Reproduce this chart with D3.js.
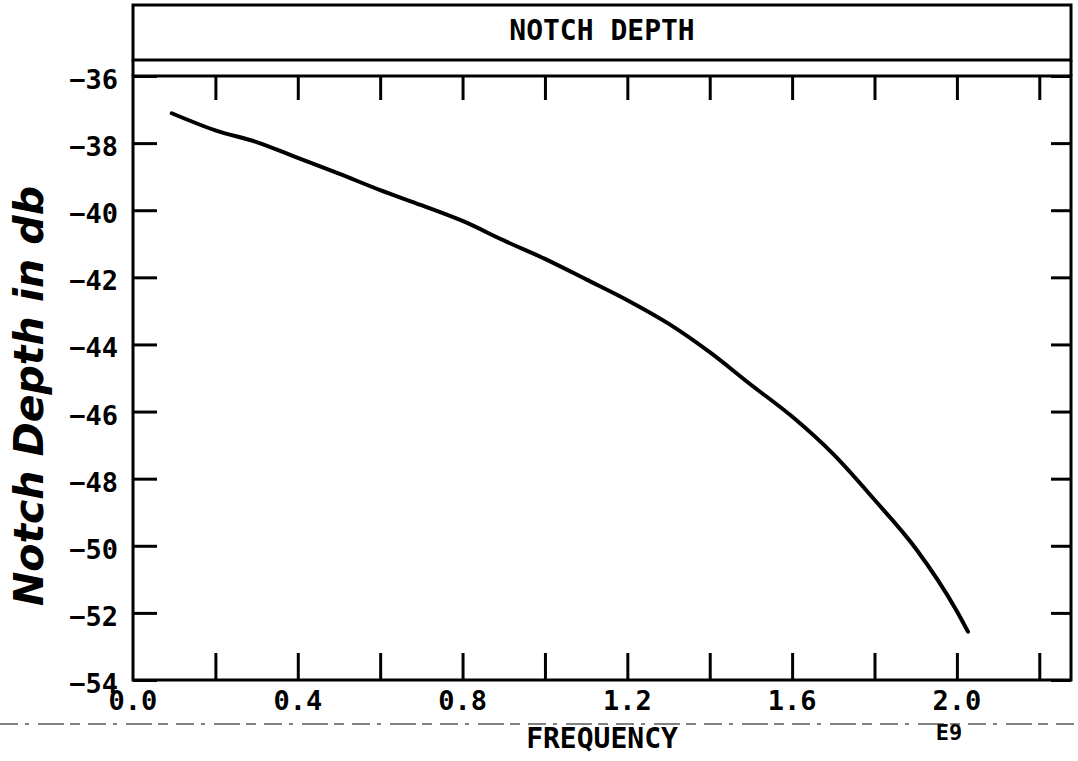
<!DOCTYPE html>
<html>
<head>
<meta charset="utf-8">
<script src="https://cdn.jsdelivr.net/npm/d3@7"></script>
<style>
  html, body { margin: 0; padding: 0; background: #fff; }
  svg { display: block; }
</style>
</head>
<body>
<svg id="chart" width="1078" height="761"></svg>
<script>
// Notch depth vs. frequency (x in units of 1E9 Hz)
const frequency = [0.094, 0.2, 0.3, 0.4, 0.5, 0.6, 0.7, 0.8, 0.9, 1.0, 1.1, 1.2, 1.3, 1.4, 1.5, 1.6, 1.7, 1.8, 1.9, 2.0, 2.027];
const notchDepth = [-37.11, -37.62, -37.97, -38.44, -38.91, -39.40, -39.85, -40.32, -40.90, -41.45, -42.06, -42.68, -43.38, -44.23, -45.20, -46.15, -47.27, -48.63, -50.08, -51.95, -52.56];

const xTicks = [0.2, 0.4, 0.6, 0.8, 1.0, 1.2, 1.4, 1.6, 1.8, 2.0, 2.2];
const xTickLabels = [0.0, 0.4, 0.8, 1.2, 1.6, 2.0];
const yTicks = [-36, -38, -40, -42, -44, -46, -48, -50, -52, -54];

const titleText = "NOTCH DEPTH";
const xTitle = "FREQUENCY";
const xExponent = "E9";
const yTitle = "Notch Depth in db";

const svg = d3.select("#chart");
const ink = "#000";
const mono = "'DejaVu Sans Mono', 'Liberation Mono', monospace";

const plot = { left: 133, right: 1071, top: 76, bottom: 680 };
const titleBox = { top: 5, bottom: 60 };

const x = d3.scaleLinear().domain([0, 2.277]).range([plot.left, plot.right]);
const y = d3.scaleLinear().domain([-54, -36]).range([plot.bottom, plot.top]);

// Title box above the frame
svg.append("rect")
  .attr("x", plot.left).attr("y", titleBox.top)
  .attr("width", plot.right - plot.left).attr("height", titleBox.bottom - titleBox.top)
  .attr("fill", "none").attr("stroke", ink).attr("stroke-width", 3);
svg.append("line")
  .attr("x1", plot.left).attr("x2", plot.left)
  .attr("y1", titleBox.bottom).attr("y2", plot.top)
  .attr("stroke", ink).attr("stroke-width", 3);
svg.append("line")
  .attr("x1", plot.right).attr("x2", plot.right)
  .attr("y1", titleBox.bottom).attr("y2", plot.top)
  .attr("stroke", ink).attr("stroke-width", 3);
svg.append("text")
  .attr("x", (plot.left + plot.right) / 2).attr("y", 40)
  .attr("text-anchor", "middle")
  .attr("font-family", mono).attr("font-weight", "bold").attr("font-size", 28)
  .attr("fill", ink)
  .text(titleText);

// Axes: ticks drawn inward on all four sides
const tickStyle = g => {
  g.select(".domain").remove();
  g.selectAll(".tick line").attr("stroke", ink).attr("stroke-width", 3);
};

svg.append("g")
  .attr("transform", `translate(0,${plot.bottom})`)
  .call(d3.axisBottom(x).tickValues(xTicks).tickSize(-27).tickFormat(""))
  .call(tickStyle);
svg.append("g")
  .attr("transform", `translate(0,${plot.top})`)
  .call(d3.axisTop(x).tickValues(xTicks).tickSize(-24).tickFormat(""))
  .call(tickStyle);
svg.append("g")
  .attr("transform", `translate(${plot.left},0)`)
  .call(d3.axisLeft(y).tickValues(yTicks).tickSize(-24).tickFormat(""))
  .call(tickStyle);
svg.append("g")
  .attr("transform", `translate(${plot.right},0)`)
  .call(d3.axisRight(y).tickValues(yTicks).tickSize(-20).tickFormat(""))
  .call(tickStyle);

// Plot frame
svg.append("rect")
  .attr("x", plot.left).attr("y", plot.top)
  .attr("width", plot.right - plot.left).attr("height", plot.bottom - plot.top)
  .attr("fill", "none").attr("stroke", ink).attr("stroke-width", 3);

// Tick labels
svg.append("g").selectAll("text")
  .data(xTickLabels)
  .join("text")
  .attr("x", d => x(d)).attr("y", plot.bottom + 30)
  .attr("text-anchor", "middle")
  .attr("font-family", mono).attr("font-weight", "bold").attr("font-size", 27)
  .attr("fill", ink)
  .text(d => d3.format(".1f")(d));

svg.append("g").selectAll("text")
  .data(yTicks)
  .join("text")
  .attr("x", plot.left - 15).attr("y", d => y(d) + 13)
  .attr("text-anchor", "end")
  .attr("font-family", mono).attr("font-weight", "bold").attr("font-size", 27)
  .attr("fill", ink)
  .text(d => d3.format("d")(d));

// Axis titles
svg.append("text")
  .attr("x", 602).attr("y", 748)
  .attr("text-anchor", "middle")
  .attr("font-family", mono).attr("font-weight", "bold").attr("font-size", 28)
  .attr("fill", ink)
  .text(xTitle);
svg.append("text")
  .attr("x", 949).attr("y", 740)
  .attr("text-anchor", "middle")
  .attr("font-family", mono).attr("font-weight", "bold").attr("font-size", 22)
  .attr("fill", ink)
  .text(xExponent);

svg.append("text")
  .attr("transform", `translate(43,396) rotate(-90)`)
  .attr("text-anchor", "middle")
  .attr("font-family", "'DejaVu Sans', sans-serif")
  .attr("font-weight", "bold").attr("font-style", "italic")
  .attr("font-size", 40)
  .attr("textLength", 420).attr("lengthAdjust", "spacingAndGlyphs")
  .attr("fill", ink)
  .text(yTitle);

// Ruled line crossing the lower margin
svg.append("line")
  .attr("x1", 0).attr("x2", 1078)
  .attr("y1", 724).attr("y2", 724)
  .attr("stroke", "#222").attr("stroke-width", 1.5)
  .attr("stroke-dasharray", "18 7 4 9 26 6 10 8")
  .attr("opacity", 0.75);

// Data curve
const points = frequency.map((f, i) => [f, notchDepth[i]]);
const line = d3.line()
  .x(d => x(d[0]))
  .y(d => y(d[1]))
  .curve(d3.curveMonotoneX);

svg.append("path")
  .datum(points)
  .attr("d", line)
  .attr("fill", "none")
  .attr("stroke", ink)
  .attr("stroke-width", 4)
  .attr("stroke-linejoin", "round")
  .attr("stroke-linecap", "round");
</script>
</body>
</html>
